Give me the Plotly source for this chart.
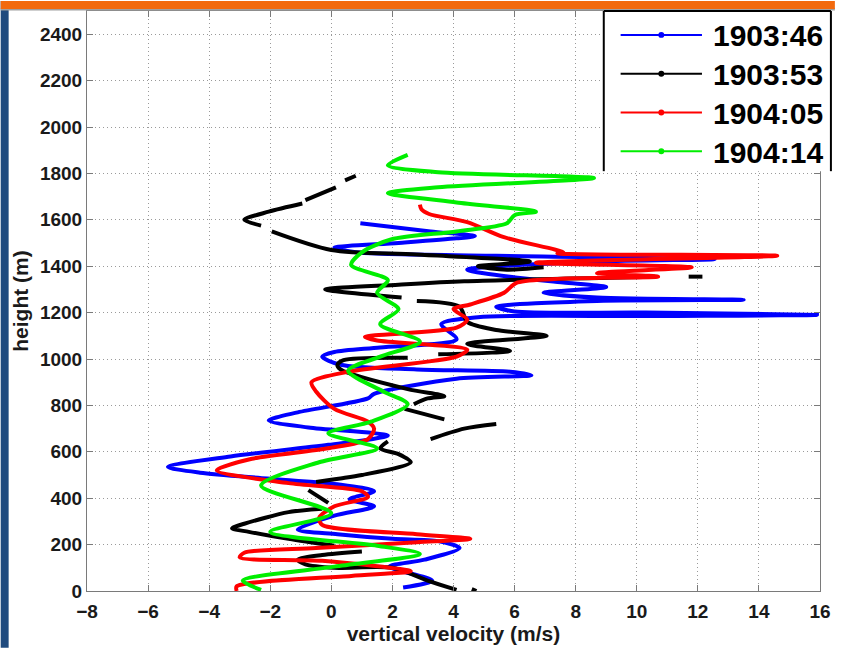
import plotly.graph_objects as go

# ---------------- data (vertical velocity w [m/s], height h [m]) ----------------
series_names = ["1903:46", "1903:53", "1904:05", "1904:14"]
series_colors = ["#0000ff", "#000000", "#ff0000", "#00ee00"]

blue_w = [2.35, 3.3, 1.9, 3.05, 4.2, 3.5, 2.0, 0.2, -1.1, 0.1, 1.4, 0.6, 1.4, 0.2, -2.1, -4.3,
          -5.35, -3.3, -0.1, 1.85, -0.75, -2.05, -1.1, 1.2, 1.4, 4.1, 6.55, 5.85, 2.8, 0.3, -0.3,
          0.1, 1.6, 4.1, 3.6, 4.8, 10.3, 15.9, 10.3, 6.0, 5.4, 8.7, 13.5, 8.7, 6.95, 9.0, 7.6,
          6.1, 4.45, 8.7, 12.55, 5.4, 0.8, 0.1, 2.2, 4.1, 4.7, 3.25, 0.95]
blue_h = [15, 45, 105, 135, 185, 215, 225, 245, 265, 325, 365, 395, 430, 460, 485, 510,
          535, 580, 630, 670, 705, 735, 770, 830, 850, 915, 930, 945, 955, 975, 1010,
          1030, 1050, 1085, 1150, 1180, 1185, 1190, 1200, 1205, 1225, 1250, 1255, 1265, 1285, 1310, 1330,
          1350, 1385, 1420, 1430, 1445, 1460, 1480, 1500, 1520, 1530, 1550, 1585]

black_w = [4.75, 4.6, None,
           4.1, 3.15, 2.0, 0.1, -0.85, -1.1, -0.3, 1.0, None,
           0.1, -1.4, -2.7, -3.25, -2.85, -1.4, -0.3, None,
           -0.1, -0.75, None,
           -0.5, 0.3, 1.0, 2.6, 2.2, 1.6, 1.85, None,
           3.25, 4.35, 5.4, None,
           3.7, 2.4, None,
           2.7, 3.15, 3.7, 2.5, 0.3, 0.2, 0.4, 2.5, None,
           3.5, 5.85, 4.45, 7.05, 5.4, 4.45, 4.2, 2.8, None,
           2.3, -0.2, 2.2, 4.35, 10.6, None,
           11.7, 12.15, None,
           6.95, 5.75, 4.8, 6.5, 2.8, 0.0, -1.95, None,
           -2.3, -2.85, -2.05, -0.95, None,
           -0.85, 0.15, None,
           0.45, 0.8]
black_h = [0, 8, None,
           5, 45, 100, 100, 115, 135, 155, 170, None,
           195, 225, 255, 270, 290, 340, 355, None,
           380, 435, None,
           470, 485, 500, 555, 590, 615, 645, None,
           655, 700, 720, None,
           740, 785, None,
           805, 830, 840, 870, 955, 975, 995, 1005, None,
           1020, 1035, 1065, 1100, 1125, 1160, 1225, 1250, None,
           1265, 1300, 1320, 1335, 1355, None,
           1355, 1355, None,
           1395, 1385, 1400, 1420, 1450, 1470, 1550, None,
           1575, 1600, 1635, 1670, None,
           1685, 1740, None,
           1770, 1790]

red_w = [-3.1, -3.1, 0.65, 2.6, -0.3, -3.0, -2.85, -0.5, 2.8, 4.55, 2.8, -0.3, -0.4, 0.1, 1.2,
         1.0, -1.4, -3.75, -2.6, -0.1, 1.2, 1.4, 1.2, 0.1, -0.5, -0.65, 0.55, 4.1, 4.45, 1.5,
         1.1, 4.1, 4.45, 4.0, 4.55, 5.65, 6.1, 10.7, 8.7, 11.8, 6.7, 14.6, 7.4, 7.6, 5.65,
         4.45, 3.2, 2.95, 2.9]
red_h = [0, 20, 65, 85, 130, 145, 165, 185, 210, 225, 245, 285, 315, 365, 405,
         430, 465, 520, 570, 615, 655, 700, 730, 785, 860, 900, 945, 1010, 1040, 1080,
         1095, 1135, 1170, 1215, 1235, 1285, 1330, 1355, 1370, 1395, 1415, 1445, 1455, 1460, 1525,
         1590, 1625, 1645, 1665]

green_w = [-2.3, -2.9, 0.1, 2.9, 1.5, -2.0, 0.0, -2.3, -0.4, 1.5, -0.1, 1.3, 2.5, 1.7, 0.55,
           1.6, 2.9, 1.6, 2.2, 1.5, 1.85, 0.65, 1.0, 1.95, 4.1, 5.75, 6.0, 6.7, 4.1, 1.85,
           3.5, 8.6, 3.5, 1.85, 2.5]
green_h = [5, 45, 105, 160, 195, 255, 335, 455, 555, 615, 680, 730, 805, 860, 950,
           1010, 1075, 1150, 1215, 1285, 1340, 1405, 1460, 1515, 1550, 1585, 1620, 1635, 1675, 1715,
           1740, 1780, 1805, 1835, 1880]

x_range = [-8, 16]
y_range = [0, 2500]
x_title = "vertical velocity (m/s)"
y_title = "height (m)"

FONT = "Liberation Sans, Arial, sans-serif"

# ---------------- figure ----------------
fig = go.Figure()
for name, color, w, h in zip(series_names, series_colors,
                             [blue_w, black_w, red_w, green_w],
                             [blue_h, black_h, red_h, green_h]):
    fig.add_trace(go.Scatter(x=w, y=h, mode="lines", name=name,
                             line=dict(color=color, width=4, shape="spline", smoothing=0.8),
                             connectgaps=False, showlegend=False))

W, H = 841, 650
ML, MR, MT, MB = 87, 15, 10, 57
PW, PH = W - ML - MR, H - MT - MB


def px(x):
    return (x - ML) / PW


def py(y):
    return (H - MB - y) / PH


shapes = []
# slide decoration: blue left strip, orange top strip
shapes.append(dict(type="rect", xref="paper", yref="paper", x0=px(0), x1=px(8), y0=py(H), y1=py(0),
                   fillcolor="#1f4a7e", line=dict(width=0), layer="above"))
shapes.append(dict(type="rect", xref="paper", yref="paper", x0=px(0), x1=px(W), y0=py(9.5), y1=py(7),
                   fillcolor="#a0a0a0", line=dict(width=0), layer="above"))
shapes.append(dict(type="rect", xref="paper", yref="paper", x0=px(0), x1=px(W), y0=py(8), y1=py(0),
                   fillcolor="#f26a0e", line=dict(width=0), layer="above"))

# manual legend box (clipped at the bottom as in the original)
lx0, lx1, ly0, ly1 = 608, 837, 9, 171
shapes.append(dict(type="rect", xref="paper", yref="paper", x0=px(lx0), x1=px(lx1), y0=py(ly1), y1=py(ly0),
                   fillcolor="white", line=dict(width=0), layer="above"))
for (a, b, c, d) in [(lx0, ly0 + 1, lx0, ly1), (lx1, ly0 + 1, lx1, ly1), (lx0, ly0 + 1, lx1, ly0 + 1)]:
    shapes.append(dict(type="line", xref="paper", yref="paper", x0=px(a), x1=px(c), y0=py(b), y1=py(d),
                       line=dict(color="black", width=2), layer="above"))

annotations = []
row_y = [34, 73, 112, 151]
for name, color, ry in zip(series_names, series_colors, row_y):
    shapes.append(dict(type="line", xref="paper", yref="paper", x0=px(625), x1=px(707), y0=py(ry), y1=py(ry),
                       line=dict(color=color, width=2), layer="above"))
    shapes.append(dict(type="circle", xref="paper", yref="paper", x0=px(663), x1=px(669),
                       y0=py(ry + 3), y1=py(ry - 3), fillcolor=color, line=dict(color=color, width=0),
                       layer="above"))
    annotations.append(dict(xref="paper", yref="paper", x=px(716), y=py(ry + 1), text=name, showarrow=False,
                            xanchor="left", yanchor="middle",
                            font=dict(family=FONT, size=30, color="black", weight="bold")))

axis_common = dict(showline=True, linecolor="#7a7a7a", linewidth=1, mirror="ticks",
                   ticks="inside", ticklen=6, tickcolor="#7a7a7a", showgrid=True,
                   gridcolor="#9a9a9a", griddash="1px,3px", gridwidth=1, zeroline=False,
                   tickfont=dict(family=FONT, size=19, color="#1a1a1a", weight="bold"))

fig.update_layout(
    width=W, height=H, margin=dict(l=ML, r=MR, t=MT, b=MB),
    paper_bgcolor="white", plot_bgcolor="white", showlegend=False,
    xaxis=dict(range=x_range, tick0=-8, dtick=2, ticklabelstandoff=3,
               title=dict(text=x_title, standoff=4,
                          font=dict(family=FONT, size=21, color="#1a1a1a", weight="bold")),
               **axis_common),
    yaxis=dict(range=y_range, tick0=0, dtick=200,
               title=dict(text=y_title, standoff=5,
                          font=dict(family=FONT, size=21, color="#1a1a1a", weight="bold")),
               **axis_common),
    shapes=shapes, annotations=annotations,
)

fig.write_html("out.html")
